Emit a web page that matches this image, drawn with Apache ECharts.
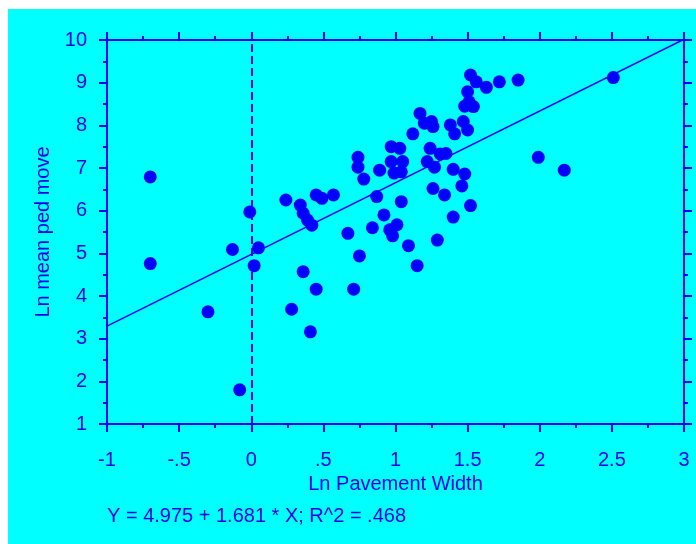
<!DOCTYPE html>
<html>
<head>
<meta charset="utf-8">
<script src="https://cdn.jsdelivr.net/npm/echarts@6/dist/echarts.min.js"></script>
<style>
    html, body { margin: 0; padding: 0; background: #fff; }
    #chart { position: absolute; left: 8px; top: 9px; width: 688px; height: 535px; }
</style>
</head>
<body>
<div id="chart"></div>
<script>
// Ln pavement width (x) vs ln mean ped move (y)
var lnWidth = [
    -0.70, -0.70, -0.30, -0.13, -0.08, -0.01, 0.05, 0.02, 0.24, 0.34,
    0.36, 0.39, 0.42, 0.45, 0.49, 0.57, 0.28, 0.36, 0.41, 0.45,
    0.71, 0.75, 0.67, 0.84, 0.92, 0.96, 1.01, 0.98, 1.09, 1.15,
    1.29, 1.40, 1.52, 1.04, 0.74, 0.74, 0.78, 0.89, 0.87, 0.97,
    1.03, 0.97, 1.05, 0.99, 1.04, 1.22, 1.12, 1.24, 1.26, 1.17,
    1.20, 1.25, 1.26, 1.38, 1.41, 1.47, 1.50, 1.31, 1.35, 1.27,
    1.40, 1.48, 1.46, 1.34, 1.52, 1.56, 1.63, 1.72, 1.85, 1.50,
    1.51, 1.48, 1.54, 1.99, 2.17, 2.51
];
var lnPedMove = [
    6.79, 4.76, 3.63, 5.09, 1.80, 5.97, 5.13, 4.71, 6.25, 6.13,
    5.94, 5.78, 5.66, 6.37, 6.29, 6.37, 3.69, 4.57, 3.16, 4.16,
    4.16, 4.94, 5.47, 5.60, 5.90, 5.55, 5.67, 5.41, 5.18, 4.71,
    5.31, 5.85, 6.12, 6.21, 7.25, 7.02, 6.74, 6.95, 6.33, 7.50,
    7.46, 7.15, 7.15, 6.88, 6.91, 7.15, 7.80, 7.46, 6.52, 8.28,
    8.05, 8.09, 7.97, 8.01, 7.80, 8.09, 7.89, 7.33, 7.34, 7.02,
    6.97, 6.86, 6.58, 6.37, 9.18, 9.02, 8.89, 9.02, 9.06, 8.79,
    8.55, 8.45, 8.44, 7.25, 6.95, 9.12
];
var fitIntercept = 4.975;
var fitSlope = 1.681;
var fitR2 = '.468';
var xRange = [-1, 3];
var yRange = [1, 10];

var blue = '#0000ff';
var textBlue = '#0000e8';
var font = '"Liberation Sans", Arial, sans-serif';
var fontSize = 20;

function stripZero(v) {
    return String(v).replace(/^(-?)0\./, '$1.');
}

function axisBits(showLabels) {
    return {
        axisLine: { show: true, onZero: false, lineStyle: { color: blue, width: 2 } },
        axisTick: { show: true, inside: false, length: 8, lineStyle: { color: blue, width: 2 } },
        minorTick: { show: true, splitNumber: 2, length: 4, lineStyle: { color: blue, width: 2 } },
        splitLine: { show: false },
        axisLabel: {
            show: showLabels,
            color: textBlue,
            fontFamily: font,
            fontSize: fontSize
        }
    };
}

var points = [];
for (var i = 0; i < lnWidth.length; i++)
    points.push([lnWidth[i], lnPedMove[i]]);

var fitLine = [
    [xRange[0], fitIntercept + fitSlope * xRange[0]],
    [xRange[1], fitIntercept + fitSlope * xRange[1]]
];

var bottomX = axisBits(true);
bottomX.type = 'value';
bottomX.position = 'bottom';
bottomX.min = xRange[0];
bottomX.max = xRange[1];
bottomX.interval = 0.5;
bottomX.axisLabel.margin = 26;
bottomX.axisLabel.formatter = stripZero;
bottomX.name = 'Ln Pavement Width';
bottomX.nameLocation = 'middle';
bottomX.nameGap = 48;
bottomX.nameTextStyle = { color: textBlue, fontFamily: font, fontSize: fontSize };

var topX = axisBits(false);
topX.type = 'value';
topX.position = 'top';
topX.min = xRange[0];
topX.max = xRange[1];
topX.interval = 0.5;

var leftY = axisBits(true);
leftY.type = 'value';
leftY.position = 'left';
leftY.min = yRange[0];
leftY.max = yRange[1];
leftY.interval = 1;
leftY.axisLabel.margin = 20;
leftY.name = 'Ln mean ped move';
leftY.nameLocation = 'middle';
leftY.nameGap = 50;
leftY.nameTextStyle = { color: textBlue, fontFamily: font, fontSize: fontSize };

var rightY = axisBits(false);
rightY.type = 'value';
rightY.position = 'right';
rightY.min = yRange[0];
rightY.max = yRange[1];
rightY.interval = 1;

var chart = echarts.init(document.getElementById('chart'));
chart.setOption({
    animation: false,
    backgroundColor: '#00ffff',
    grid: { left: 99, right: 12, top: 31, bottom: 120 },
    xAxis: [bottomX, topX],
    yAxis: [leftY, rightY],
    graphic: [{
        type: 'text',
        left: 99,
        top: 497,
        style: {
            text: 'Y = ' + fitIntercept.toFixed(3) + ' + ' + fitSlope.toFixed(3) + ' * X; R^2 = ' + fitR2,
            fill: textBlue,
            font: fontSize + 'px ' + font
        }
    }],
    series: [{
        type: 'scatter',
        data: points,
        symbol: 'circle',
        symbolSize: 13,
        itemStyle: { color: blue, opacity: 1 },
        markLine: {
            silent: true,
            symbol: 'none',
            label: { show: false },
            lineStyle: { color: blue, type: [8, 4], width: 2, opacity: 1 },
            data: [{ xAxis: 0 }]
        }
    }, {
        type: 'line',
        data: fitLine,
        symbol: 'none',
        clip: true,
        lineStyle: { color: blue, width: 1.5 }
    }]
});
</script>
</body>
</html>
